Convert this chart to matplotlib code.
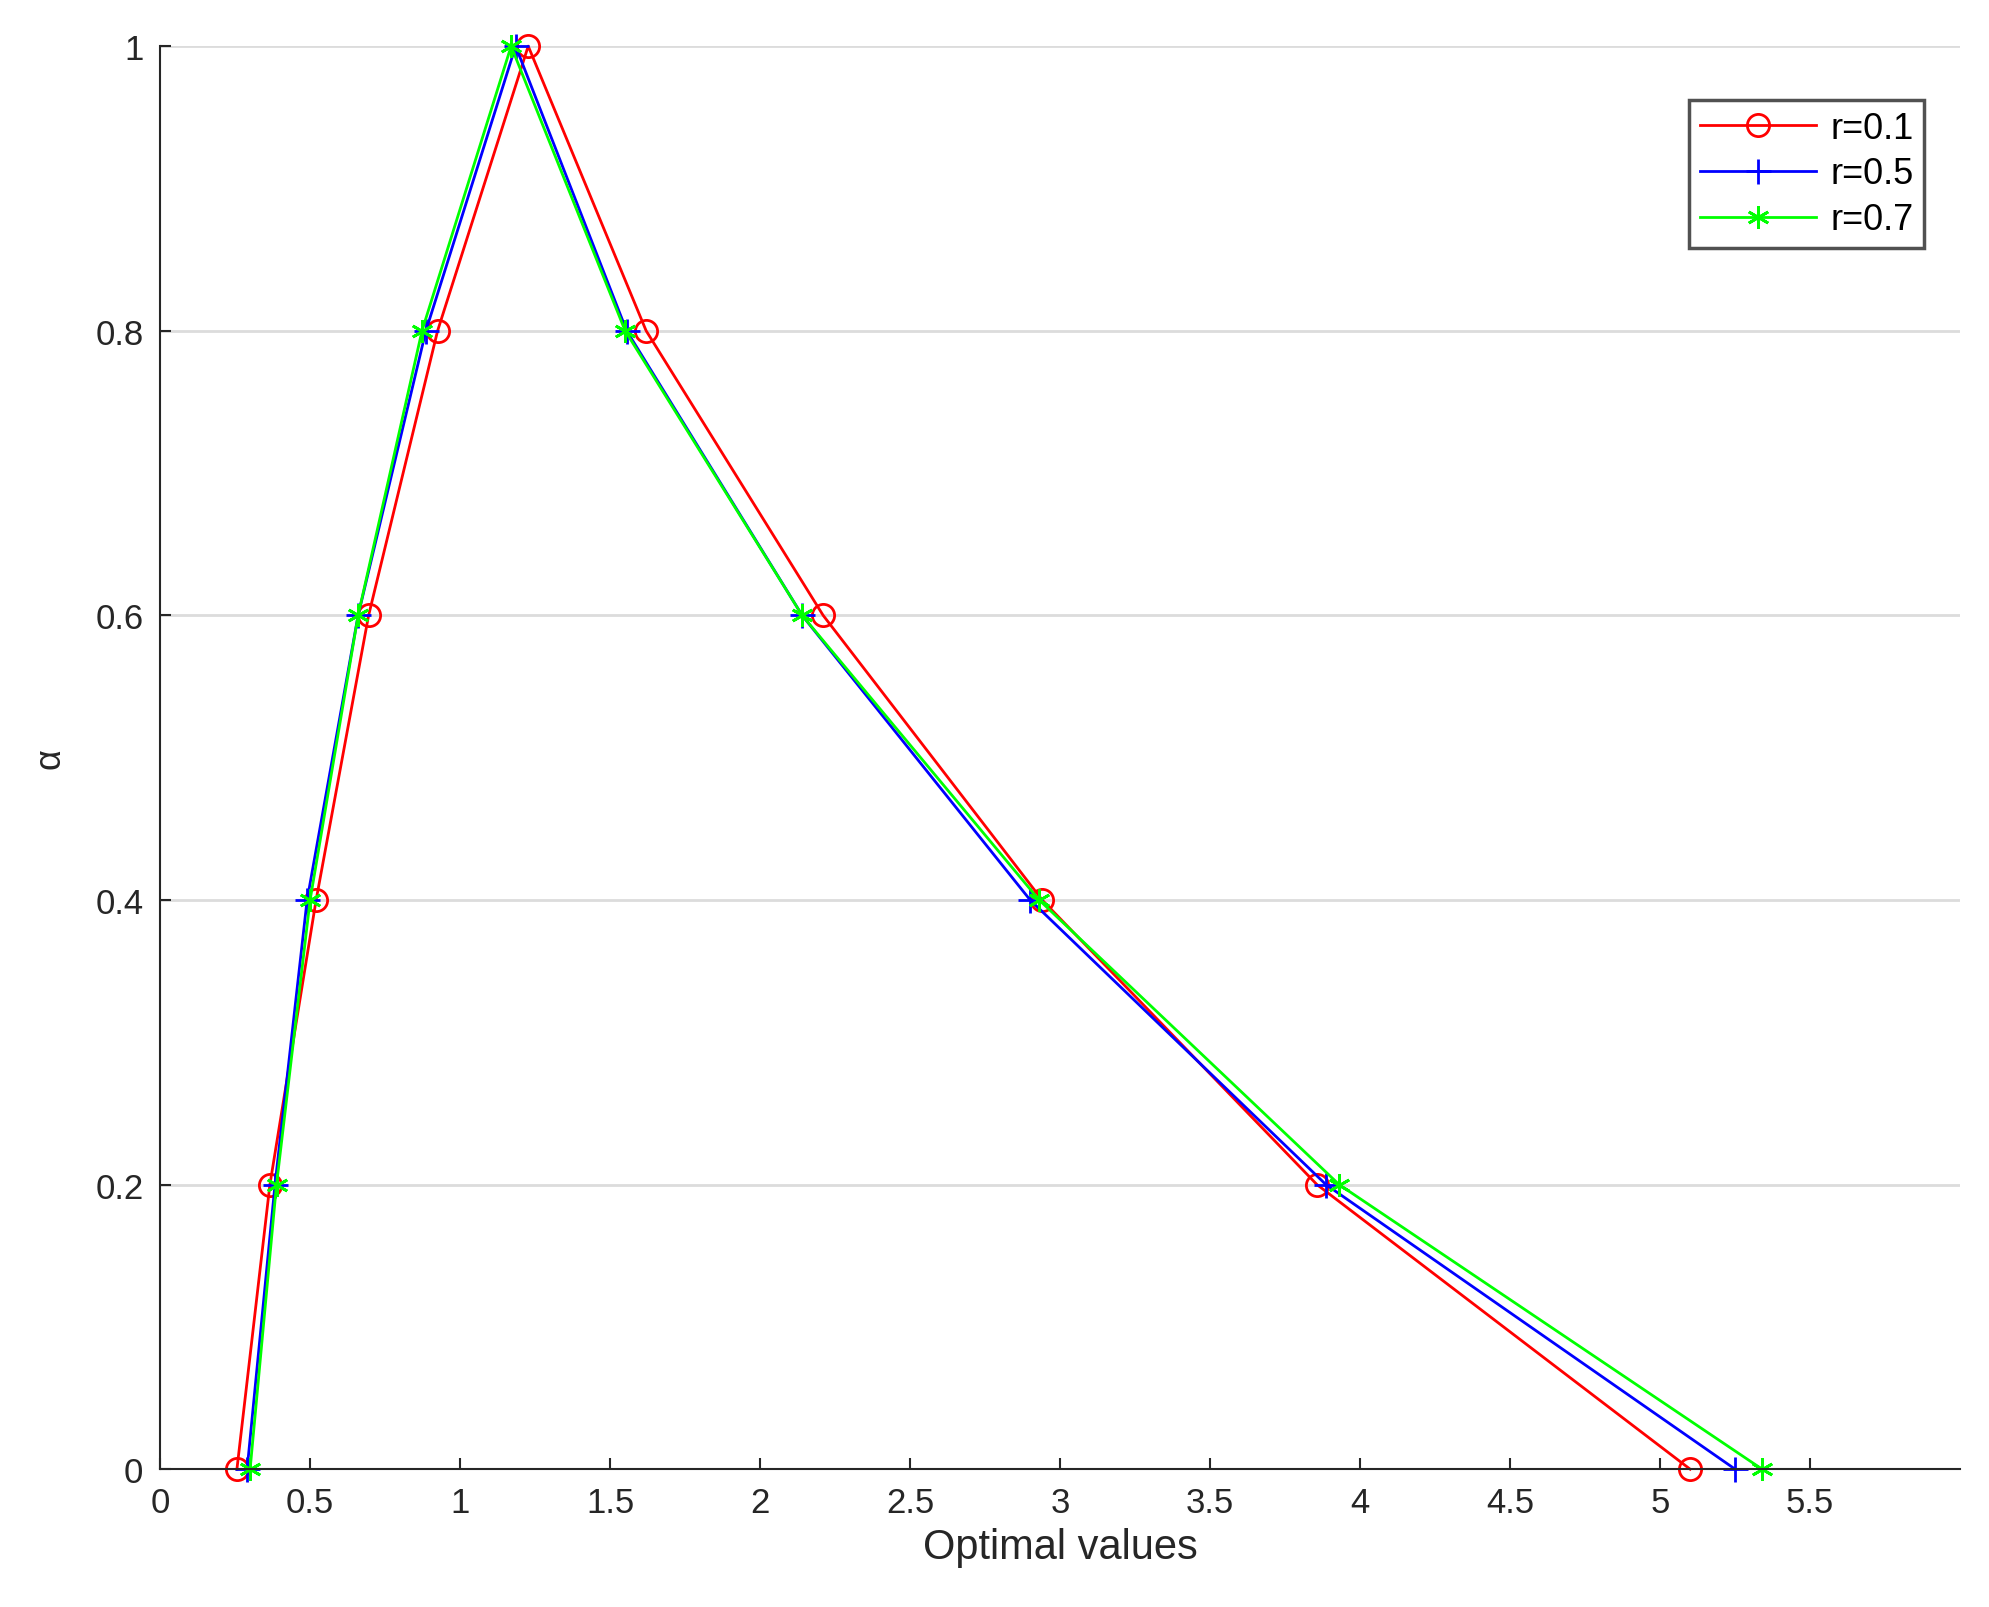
import matplotlib
matplotlib.use("Agg")
import matplotlib.pyplot as plt
plt.rcParams['font.family'] = ['Liberation Sans', 'DejaVu Sans']

alpha = [0, 0.2, 0.4, 0.6, 0.8, 1, 0.8, 0.6, 0.4, 0.2, 0]
x_r01 = [0.256, 0.366, 0.52, 0.695, 0.925, 1.227, 1.62, 2.21, 2.94, 3.856, 5.10]
x_r05 = [0.29, 0.383, 0.49, 0.66, 0.886, 1.185, 1.555, 2.14, 2.90, 3.886, 5.25]
x_r07 = [0.30, 0.388, 0.50, 0.66, 0.873, 1.17, 1.55, 2.14, 2.93, 3.93, 5.34]
xticks = [0, 0.5, 1, 1.5, 2, 2.5, 3, 3.5, 4, 4.5, 5, 5.5]
yticks = [0, 0.2, 0.4, 0.6, 0.8, 1]

fig = plt.figure(figsize=(19.89, 16.08), dpi=100)
ax = fig.add_axes([0.0805, 0.0857, 0.905, 0.885])
ax.plot(x_r01, alpha, color='#ff0000', marker='o', ms=16, mfc='none', mew=2, lw=2, label='r=0.1', clip_on=False)
ax.plot(x_r05, alpha, color='#0000ff', marker='+', ms=18, mew=2, lw=2, label='r=0.5', clip_on=False)
ax.plot(x_r07, alpha, color='#00ff00', marker=(6, 2, 0), ms=16, mew=2, lw=2, label='r=0.7', clip_on=False)
ax.set_xlim(0, 6)
ax.set_ylim(0, 1)
ax.set_xticks(xticks)
ax.set_xticklabels([f"{t:g}" for t in xticks])
ax.set_yticks(yticks)
ax.set_yticklabels([f"{t:g}" for t in yticks])
ax.yaxis.grid(True, color='#dcdcdc', lw=2)
ax.set_axisbelow(True)
for s in ['top', 'right']:
    ax.spines[s].set_visible(False)
for s in ['left', 'bottom']:
    ax.spines[s].set_color('#262626')
    ax.spines[s].set_linewidth(1.5)
ax.tick_params(direction='in', length=8, labelsize=25, colors='#262626', width=1.5, pad=12)
ax.set_xlabel('Optimal values', fontsize=30, color='#262626', labelpad=6)
ax.set_ylabel('α', fontsize=26, color='#262626', labelpad=20)
leg = ax.legend(loc='upper right', fontsize=26, fancybox=False, edgecolor='#262626',
                handlelength=3.2, handletextpad=0.4, borderpad=0.3, labelspacing=0.3,
                bbox_to_anchor=(0.99, 0.975))
leg.get_frame().set_linewidth(2.5)
fig.savefig('out.png', dpi=100, facecolor='white')
